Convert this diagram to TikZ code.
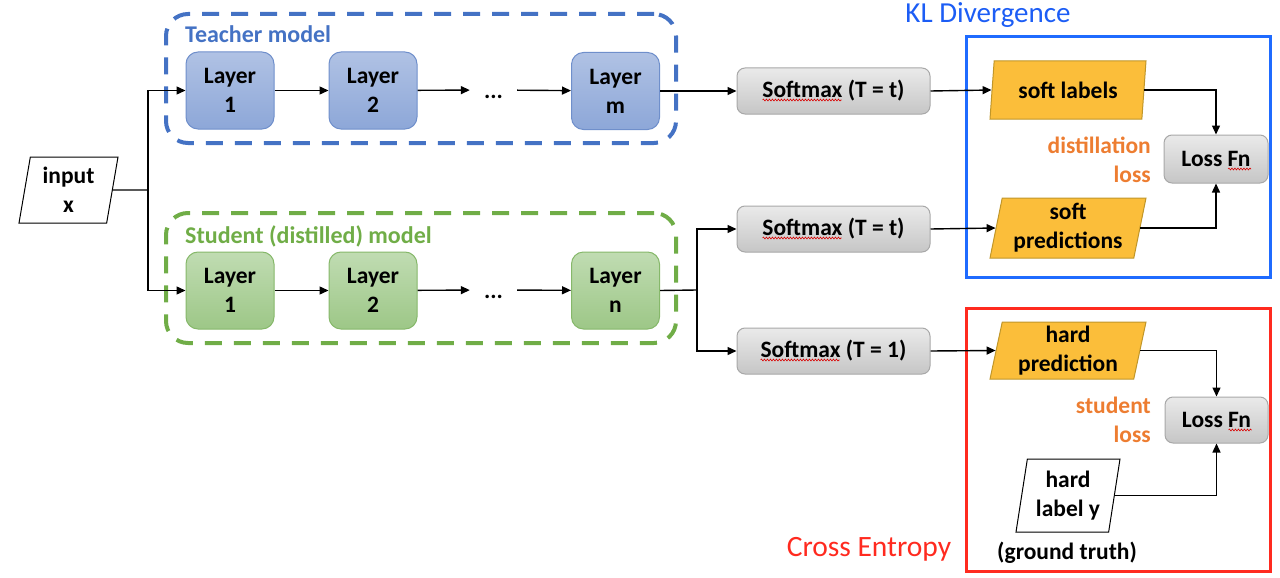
\documentclass[tikz,border=0pt]{standalone}
\usepackage{fontspec}
\setmainfont{Carlito}
\usetikzlibrary{arrows.meta,shapes.geometric,calc,decorations.pathmorphing}
\definecolor{tblue}{HTML}{4472C4}
\definecolor{tborder}{HTML}{6F8FCB}
\definecolor{tTop}{HTML}{B0C2E4}
\definecolor{tBot}{HTML}{8DA7D8}
\definecolor{sgreen}{HTML}{70AD47}
\definecolor{sborder}{HTML}{86B86A}
\definecolor{sTop}{HTML}{C0DCB2}
\definecolor{sBot}{HTML}{9DC787}
\definecolor{gTop}{HTML}{EAEAEA}
\definecolor{gBot}{HTML}{C6C6C6}
\definecolor{gborder}{HTML}{A8A8A8}
\definecolor{ofill}{HTML}{FBBE3A}
\definecolor{oborder}{HTML}{C0962A}
\definecolor{otext}{HTML}{ED7D31}
\definecolor{klblue}{HTML}{1C5DF5}
\definecolor{klbox}{HTML}{1F6BFF}
\definecolor{cered}{HTML}{FF2A1F}
\begin{document}
\begin{tikzpicture}[x=1pt,y=-1pt,
  txt/.style={font=\bfseries\fontsize{23.5}{29}\selectfont, align=center, inner sep=0pt},
  layerT/.style={txt, draw=tborder, line width=1pt, rounded corners=12pt, top color=tTop, bottom color=tBot, minimum width=88pt, minimum height=77pt},
  layerS/.style={txt, draw=sborder, line width=1pt, rounded corners=12pt, top color=sTop, bottom color=sBot, minimum width=88pt, minimum height=77pt},
  greybox/.style={txt, draw=gborder, line width=1pt, rounded corners=8pt, top color=gTop, bottom color=gBot},
  para/.style={txt, trapezium, trapezium stretches body=true, line width=1pt},
  frame/.style={line width=4pt, rounded corners=22pt, dash pattern=on 17pt off 12pt, inner sep=0pt},
  arr/.style={-{Triangle[length=9pt,width=8pt]}, line width=1.4pt},
  plain/.style={line width=1.4pt},
  squig/.style={draw=red!85!black, line width=0.6pt, decorate, decoration={snake, amplitude=0.9pt, segment length=3pt}}
]
\useasboundingbox (0,0) rectangle (1280,578);

% model frames
\node (tframe) [frame, draw=tblue, minimum width=510pt, minimum height=129pt] at (421,78.5) {};
\node (sframe) [frame, draw=sgreen, minimum width=510pt, minimum height=130pt] at (421,278) {};
\node (ttitle) [txt, text=tblue, anchor=base west, font=\bfseries\fontsize{24}{29}\selectfont] at (185,43) {Teacher model};
\node (stitle) [txt, text=sgreen, anchor=base west, font=\bfseries\fontsize{24}{29}\selectfont] at (185,243) {Student (distilled) model};

% input
\node (in) [para, draw=black, fill=white, trapezium left angle=76, trapezium right angle=104, minimum width=99pt, minimum height=66pt] at (68.5,190) {input\\x};
\coordinate (jn) at (148,190);

% teacher layers
\node (t1) [layerT] at (230,90.5) {Layer\\1};
\node (t2) [layerT] at (373,90.5) {Layer\\2};
\node (td) [txt, minimum width=47pt, text height=17pt, text depth=0pt] at (493.5,90) {...};
\node (tm) [layerT] at (615.5,91) {Layer\\m};

% student layers
\node (s1) [layerS] at (230,290.5) {Layer\\1};
\node (s2) [layerS] at (373,290.5) {Layer\\2};
\node (sd) [txt, minimum width=47pt, text height=17pt, text depth=0pt] at (493.5,290) {...};
\node (sn) [layerS] at (615.5,290.5) {Layer\\n};
\coordinate (br) at (697,290);

% softmax boxes
\node (sm1) [greybox, minimum width=193pt, minimum height=46pt] at (833.5,91) {Softmax (T = t)};
\node (sm2) [greybox, minimum width=193pt, minimum height=46pt] at (833.5,229) {Softmax (T = t)};
\node (sm3) [greybox, minimum width=193pt, minimum height=46pt] at (833.5,351) {Softmax (T = 1)};

% KL divergence region
\node (klframe) [draw=klbox, line width=3pt, minimum width=304pt, minimum height=240pt, inner sep=0pt] at (1118,157) {};
\node (kl) [text=klblue, font=\fontsize{29}{35}\selectfont, inner sep=0pt] at (988,15) {KL Divergence};
\node (sl) [para, draw=oborder, fill=ofill, trapezium left angle=76, trapezium right angle=104, minimum width=156pt, minimum height=58pt] at (1068,90) {soft labels};
\node (sp) [para, draw=oborder, fill=ofill, trapezium left angle=76, trapezium right angle=104, minimum width=156pt, minimum height=60pt] at (1068,228) {soft\\predictions};
\node (lf1) [greybox, minimum width=104pt, minimum height=48pt] at (1216,159) {Loss Fn};
\node (dl) [txt, text=otext, align=right, anchor=east] at (1151,159.5) {distillation\\loss};

% Cross entropy region
\node (ceframe) [draw=cered, line width=3pt, minimum width=304pt, minimum height=263pt, inner sep=0pt] at (1118,439.5) {};
\node (ce) [text=cered, font=\fontsize{29.5}{35}\selectfont, inner sep=0pt] at (869,549) {Cross Entropy};
\node (hp) [para, draw=oborder, fill=ofill, trapezium left angle=76, trapezium right angle=104, minimum width=156pt, minimum height=57pt] at (1068,350.5) {hard\\prediction};
\node (lf2) [greybox, minimum width=103pt, minimum height=46pt] at (1216.5,420) {Loss Fn};
\node (stl) [txt, text=otext, align=right, anchor=east] at (1151,419.5) {student\\loss};
\node (hl) [para, draw=black, fill=white, trapezium left angle=77, trapezium right angle=103, minimum width=104pt, minimum height=73pt] at (1068,495.5) {hard\\label y};
\node (gt) [txt] at (1067,553) {(ground truth)};

% spell-check underlines
\draw[squig] ($(sm1.center)+(-71,9)$) -- ($(sm1.center)+(8,9)$);
\draw[squig] ($(sm2.center)+(-71,9)$) -- ($(sm2.center)+(8,9)$);
\draw[squig] ($(sm3.center)+(-73,9)$) -- ($(sm3.center)+(6,9)$);
\draw[squig] ($(lf1.center)+(12,10)$) -- ($(lf1.center)+(35,10)$);
\draw[squig] ($(lf2.center)+(12,10)$) -- ($(lf2.center)+(35,10)$);

% connectors
\draw[plain] (in.east) -- (jn);
\draw[arr] (jn) |- (t1.west);
\draw[arr] (jn) |- (s1.west);
\draw[arr] (t1) -- (t2);
\draw[arr] (t2) -- (td);
\draw[arr] (td) -- (tm);
\draw[arr] (s1) -- (s2);
\draw[arr] (s2) -- (sd);
\draw[arr] (sd) -- (sn);
\draw[arr] (tm.east) -- (sm1.west);
\draw[plain] (sn.east) -- (br);
\draw[arr] (br) |- (sm2.west);
\draw[arr] (br) |- (sm3.west);
\draw[arr] (sm1.east) -- (sl.west);
\draw[arr] (sm2.east) -- (sp.west);
\draw[arr] (sm3.east) -- (hp.west);
\draw[arr] (sl.east) -| (lf1.north);
\draw[arr] (sp.east) -| (lf1.south);
\draw[arr] (hp.east) -| (lf2.north);
\draw[arr] (hl.east) -| (lf2.south);
\end{tikzpicture}
\end{document}
